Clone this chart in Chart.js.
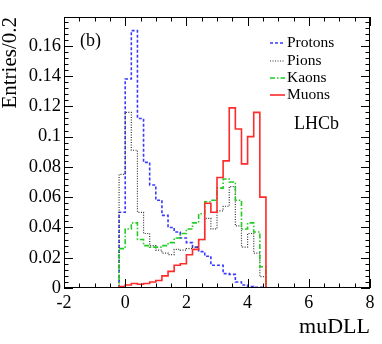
<!DOCTYPE html>
<html lang="en">
<head>
    <meta charset="UTF-8">
    <title>muDLL</title>
    <script src="https://cdn.jsdelivr.net/npm/chart.js"></script>
    <style>
        body { margin: 0; background: #fff; }
        canvas { display: block; }
    </style>
</head>
<body>
<canvas id="graph" width="382" height="344"></canvas>
<script>
    // lower bin edges (0.2 wide between -0.2 and 4.6), last point closes the histogram
    var binEdges = [-2, -0.2, 0, 0.2, 0.4, 0.6, 0.8, 1.0, 1.2, 1.4, 1.6, 1.8, 2.0, 2.2,
                    2.4, 2.6, 2.8, 3.0, 3.2, 3.4, 3.6, 3.8, 4.0, 4.2, 4.4, 4.6, 8];

    var protons = [0, 0.050, 0.138, 0.170, 0.112, 0.083, 0.068, 0.058, 0.048, 0.040, 0.037, 0.033, 0.030,
                   0.027, 0.024, 0.021, 0.015, 0.015, 0.0095, 0.009, 0.004, 0.002, 0.001, 0.0005, 0.0005, 0, 0];
    var pions   = [0, 0.075, 0.116, 0.091, 0.050, 0.036, 0.028, 0.025, 0.023, 0.022, 0.0255, 0.025, 0.026,
                   0.027, 0.032, 0.046, 0.039, 0.051, 0.054, 0.067, 0.041, 0.027, 0.036, 0.023, 0.0075, 0, 0];
    var kaons   = [0, 0.026, 0.039, 0.043, 0.032, 0.028, 0.027, 0.027, 0.028, 0.030, 0.033, 0.036, 0.039,
                   0.043, 0.049, 0.057, 0.058, 0.066, 0.072, 0.070, 0.058, 0.039, 0.043, 0.037, 0.014, 0, 0];
    var muons   = [0, 0.001, 0.002, 0.003, 0.0025, 0.003, 0.004, 0.005, 0.008, 0.011, 0.015, 0.016, 0.022,
                   0.0255, 0.032, 0.056, 0.050, 0.073, 0.084, 0.119, 0.105, 0.082, 0.100, 0.116, 0.060, 0, 0];

    var xTicks = [-2, 0, 2, 4, 6, 8];
    var yTicks = [0, 0.02, 0.04, 0.06, 0.08, 0.1, 0.12, 0.14, 0.16];

    var serif = "'Liberation Serif', 'Times New Roman', serif";

    function points(values) {
        return binEdges.map((e, i) => ({ x: e, y: values[i] }));
    }

    var series = [
        { label: "Protons", data: protons, color: "#3a3aff", dash: [3, 2], width: 1.6 },
        { label: "Pions",   data: pions,   color: "#333333", dash: [1, 1.5], width: 1.2 },
        { label: "Kaons",   data: kaons,   color: "#22cc22", dash: [5, 2, 1.5, 2], width: 1.6 },
        { label: "Muons",   data: muons,   color: "#ff2a2a", dash: [], width: 1.6 }
    ];

    // ROOT-like frame: box with ticks pointing inwards on all four sides, legend and labels
    const rootFrame = {
        id: "rootFrame",
        afterDatasetsDraw(chart) {
            const { ctx, chartArea: a, scales: { x, y } } = chart;
            ctx.save();
            ctx.strokeStyle = "#000";
            ctx.lineWidth = 1;
            ctx.setLineDash([]);
            ctx.strokeRect(a.left + 0.5, a.top + 0.5, a.right - a.left - 1, a.bottom - a.top - 1);

            ctx.beginPath();
            for (let i = 0; i <= 20; i++) {
                const v = -2 + i * 0.5;
                const px = Math.round(x.getPixelForValue(v)) + 0.5;
                const len = i % 4 === 0 ? 9 : 4.5;
                ctx.moveTo(px, a.bottom); ctx.lineTo(px, a.bottom - len);
                ctx.moveTo(px, a.top); ctx.lineTo(px, a.top + len);
            }
            for (let i = 0; i <= 44; i++) {
                const py = Math.round(y.getPixelForValue(i * 0.004)) + 0.5;
                const len = i % 5 === 0 ? 9 : 4.5;
                ctx.moveTo(a.left, py); ctx.lineTo(a.left + len, py);
                ctx.moveTo(a.right, py); ctx.lineTo(a.right - len, py);
            }
            ctx.stroke();

            // legend
            ctx.font = "15.5px " + serif;
            ctx.textBaseline = "middle";
            ctx.fillStyle = "#000";
            const rows = [43, 61, 78, 95];
            series.forEach((s, i) => {
                ctx.beginPath();
                ctx.strokeStyle = s.color;
                ctx.lineWidth = s.width;
                ctx.setLineDash(s.dash);
                ctx.moveTo(270, rows[i]);
                ctx.lineTo(285, rows[i]);
                ctx.stroke();
                ctx.fillText(s.label, 287, rows[i]);
            });

            ctx.setLineDash([]);
            ctx.font = "18px " + serif;
            ctx.fillText("(b)", 80, 41);
            ctx.font = "18px " + serif;
            ctx.fillText("LHCb", 294, 124);
            ctx.restore();
        }
    };

    var ctx = document.getElementById("graph").getContext("2d");
    new Chart(ctx, {
        type: "line",
        data: {
            datasets: series.map((s, i) => ({
                label: s.label,
                data: points(s.data),
                borderColor: s.color,
                borderDash: s.dash,
                borderWidth: s.width,
                stepped: true,
                pointRadius: 0,
                fill: false,
                order: 3 - i
            }))
        },
        options: {
            responsive: false,
            animation: false,
            devicePixelRatio: 1,
            layout: { padding: { top: 17, right: 12, left: 0, bottom: 0 } },
            plugins: { legend: { display: false }, tooltip: { enabled: false } },
            scales: {
                x: {
                    type: "linear",
                    min: -2,
                    max: 8,
                    afterFit: s => { s.height = 56; },
                    afterBuildTicks: s => { s.ticks = xTicks.map(v => ({ value: v })); },
                    grid: { display: false, drawTicks: false },
                    border: { display: false },
                    ticks: {
                        padding: 4,
                        color: "#000",
                        font: { family: serif, size: 18 },
                        maxRotation: 0,
                        callback: v => String(v)
                    },
                    title: {
                        display: true,
                        text: "muDLL",
                        align: "end",
                        color: "#000",
                        font: { family: serif, size: 22 },
                        padding: { top: 0, bottom: 4 }
                    }
                },
                y: {
                    type: "linear",
                    min: 0,
                    max: 0.179,
                    afterFit: s => { s.width = 64; },
                    afterBuildTicks: s => { s.ticks = yTicks.map(v => ({ value: v })); },
                    grid: { display: false, drawTicks: false },
                    border: { display: false },
                    ticks: {
                        padding: 3,
                        color: "#000",
                        font: { family: serif, size: 18.5 },
                        callback: v => String(+v.toFixed(3))
                    },
                    title: {
                        display: true,
                        text: "Entries/0.2",
                        align: "end",
                        color: "#000",
                        font: { family: serif, size: 21, lineHeight: 1 },
                        padding: 0
                    }
                }
            }
        },
        plugins: [rootFrame]
    });
</script>
</body>
</html>
